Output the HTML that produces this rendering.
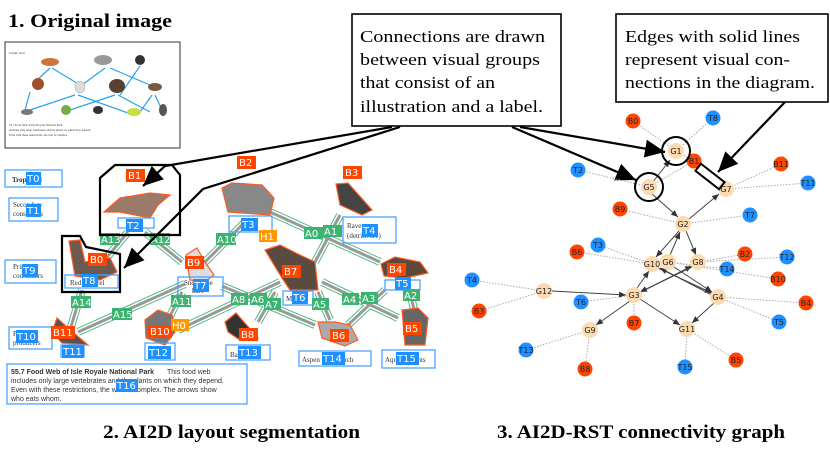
<!DOCTYPE html>
<html><head><meta charset="utf-8"><style>
html,body{margin:0;padding:0;background:#fff;}
svg{display:block;}
.cap{font-family:"Liberation Serif",serif;font-weight:bold;}
.ser{font-family:"Liberation Serif",serif;font-size:17px;}
.lab{font-family:"DejaVu Sans",sans-serif;font-size:10px;fill:#fff;}
.gl{font-family:"DejaVu Sans",sans-serif;font-size:8px;fill:#222;text-anchor:middle;}
.sm{font-family:"Liberation Serif",serif;font-size:7px;fill:#333;}
</style></head><body>
<svg width="830" height="452" viewBox="0 0 830 452" xmlns="http://www.w3.org/2000/svg">
<defs>
<marker id="ah" markerWidth="8" markerHeight="8" refX="7" refY="4" orient="auto" markerUnits="userSpaceOnUse"><path d="M0,1 L7,4 L0,7z" fill="#333"/></marker>
<marker id="bh" markerWidth="22" markerHeight="18" refX="20" refY="9" orient="auto" markerUnits="userSpaceOnUse"><path d="M0,0 L20,9 L0,18z" fill="#000"/></marker>
</defs>

<text x="8" y="27" class="cap" font-size="19" textLength="164" lengthAdjust="spacingAndGlyphs">1. Original image</text>
<!-- thumbnail -->
<rect x="5" y="42" width="175" height="106" fill="#fff" stroke="#333" stroke-width="1"/>
<g stroke="#29a3e8" stroke-width="1.2">
<line x1="50" y1="68" x2="35" y2="82"/><line x1="52" y1="68" x2="80" y2="85"/><line x1="105" y1="68" x2="82" y2="85"/><line x1="110" y1="68" x2="150" y2="85"/><line x1="140" y1="66" x2="120" y2="95"/>
<line x1="30" y1="92" x2="25" y2="110"/><line x1="75" y1="95" x2="30" y2="110"/><line x1="78" y1="95" x2="128" y2="113"/><line x1="115" y1="95" x2="70" y2="110"/><line x1="118" y1="95" x2="150" y2="112"/><line x1="152" y1="95" x2="140" y2="112"/><line x1="155" y1="95" x2="162" y2="110"/>
</g>
<g fill="#8a6a4a"><ellipse cx="50" cy="62" rx="9" ry="4" fill="#d0753a"/><ellipse cx="103" cy="60" rx="9" ry="5" fill="#999"/><ellipse cx="140" cy="60" rx="5" ry="5" fill="#333"/><ellipse cx="38" cy="84" rx="6" ry="6" fill="#a0502a"/><ellipse cx="80" cy="87" rx="5" ry="6" fill="#ddd" stroke="#999" stroke-width=".5"/><ellipse cx="117" cy="86" rx="8" ry="7" fill="#5a4030"/><ellipse cx="155" cy="87" rx="7" ry="4" fill="#7a5a40"/><ellipse cx="27" cy="112" rx="6" ry="3" fill="#777"/><ellipse cx="66" cy="110" rx="5" ry="5" fill="#7a4"/><ellipse cx="98" cy="110" rx="5" ry="4" fill="#333"/><ellipse cx="134" cy="112" rx="7" ry="4" fill="#cd4"/><ellipse cx="163" cy="110" rx="4" ry="6" fill="#555"/></g>
<g class="sm" font-size="3"><text x="9" y="54" font-size="3">Trophic level</text><text x="9" y="126" font-size="3">55.7 Food Web of Isle Royale National Park</text><text x="9" y="131" font-size="3">includes only large vertebrates and the plants on which they depend.</text><text x="9" y="136" font-size="3">Even with these restrictions, the web is complex.</text></g>

<!-- left panel: arrows -->
<g stroke-linecap="butt">
<g stroke="#3cb371" stroke-width="8" fill="none" opacity=".9">
<line x1="128" y1="232" x2="98" y2="268"/><line x1="145" y1="232" x2="182" y2="262"/><line x1="245" y1="222" x2="205" y2="262"/><line x1="270" y1="212" x2="380" y2="262"/><line x1="340" y1="215" x2="315" y2="262"/><line x1="82" y1="290" x2="70" y2="330"/><line x1="185" y1="284" x2="78" y2="332"/><line x1="182" y1="292" x2="168" y2="320"/><line x1="280" y1="282" x2="178" y2="330"/><line x1="222" y1="286" x2="315" y2="325"/><line x1="275" y1="292" x2="258" y2="322"/><line x1="318" y1="292" x2="330" y2="320"/><line x1="322" y1="282" x2="398" y2="318"/><line x1="385" y1="290" x2="348" y2="325"/><line x1="410" y1="292" x2="416" y2="318"/>
</g>
<g stroke="#fff" stroke-width="6" fill="none">
<line x1="128" y1="232" x2="98" y2="268"/><line x1="145" y1="232" x2="182" y2="262"/><line x1="245" y1="222" x2="205" y2="262"/><line x1="270" y1="212" x2="380" y2="262"/><line x1="340" y1="215" x2="315" y2="262"/><line x1="82" y1="290" x2="70" y2="330"/><line x1="185" y1="284" x2="78" y2="332"/><line x1="182" y1="292" x2="168" y2="320"/><line x1="280" y1="282" x2="178" y2="330"/><line x1="222" y1="286" x2="315" y2="325"/><line x1="275" y1="292" x2="258" y2="322"/><line x1="318" y1="292" x2="330" y2="320"/><line x1="322" y1="282" x2="398" y2="318"/><line x1="385" y1="290" x2="348" y2="325"/><line x1="410" y1="292" x2="416" y2="318"/>
</g>
<g stroke="#999" stroke-width="3" fill="none">
<line x1="128" y1="232" x2="98" y2="268"/><line x1="145" y1="232" x2="182" y2="262"/><line x1="245" y1="222" x2="205" y2="262"/><line x1="270" y1="212" x2="380" y2="262"/><line x1="340" y1="215" x2="315" y2="262"/><line x1="82" y1="290" x2="70" y2="330"/><line x1="185" y1="284" x2="78" y2="332"/><line x1="182" y1="292" x2="168" y2="320"/><line x1="280" y1="282" x2="178" y2="330"/><line x1="222" y1="286" x2="315" y2="325"/><line x1="275" y1="292" x2="258" y2="322"/><line x1="318" y1="292" x2="330" y2="320"/><line x1="322" y1="282" x2="398" y2="318"/><line x1="385" y1="290" x2="348" y2="325"/><line x1="410" y1="292" x2="416" y2="318"/>
</g>
</g>
<!-- animals -->
<g stroke="#ff5a1f" stroke-width="1.2" fill="#8a8a8a">
<path d="M104,212 L120,198 L150,193 L170,195 L158,205 L150,218 L120,212z" fill="#9a7a6a"/>
<path d="M222,188 L232,183 L262,185 L274,198 L270,215 L228,212z" fill="#888"/>
<path d="M336,184 L348,183 L372,210 L362,215 L340,205z" fill="#444"/>
<path d="M69,241 L80,240 L85,262 L110,258 L117,272 L100,280 L75,276z" fill="#6a5a50"/>
<path d="M186,255 L197,248 L205,262 L214,275 L205,282 L190,280z" fill="#ddd"/>
<path d="M265,250 L280,245 L300,255 L315,262 L318,290 L290,290 L282,278z" fill="#5a4a40"/>
<path d="M381,264 L395,257 L420,262 L428,273 L405,278 L384,276z" fill="#5a4a3a"/>
<path d="M57,318 L68,328 L88,345 L62,343 L52,332z" fill="#555"/>
<path d="M145,320 L158,310 L172,315 L175,332 L165,345 L146,338z" fill="#777"/>
<path d="M225,322 L236,313 L258,338 L240,340 L228,332z" fill="#333"/>
<path d="M318,322 L335,322 L350,325 L358,340 L345,346 L322,338z" fill="#aaa"/>
<path d="M402,310 L418,308 L428,318 L425,345 L405,345z" fill="#666"/>
</g>
<!-- text boxes -->
<g fill="none" stroke="#4da3ff" stroke-width="1.3">
<rect x="5" y="170" width="57" height="17"/><rect x="9" y="198" width="49" height="23"/><rect x="5" y="260" width="51" height="23"/><rect x="9" y="327" width="43" height="22"/>
<rect x="118" y="218" width="36" height="10"/><rect x="65" y="275" width="53" height="13"/><rect x="229" y="216" width="43" height="16"/><rect x="343" y="217" width="53" height="26"/><rect x="178" y="277" width="45" height="19"/><rect x="283" y="291" width="30" height="14"/><rect x="385" y="280" width="35" height="10"/><rect x="61" y="345" width="23" height="12"/><rect x="145" y="343" width="30" height="17"/><rect x="226" y="345" width="44" height="15"/><rect x="299" y="351" width="72" height="15"/><rect x="382" y="350" width="53" height="18"/><rect x="7" y="364" width="240" height="40"/>
</g>
<g class="sm" font-size="8" fill="#333">
<text x="12" y="182" font-weight="bold">Trop     level</text><text x="13" y="207">Secondary</text><text x="13" y="216">consumers</text><text x="13" y="269">Primary</text><text x="13" y="278">consumers</text><text x="13" y="336">Primary</text><text x="13" y="345">producers</text>
<text x="70" y="285">Red squirrel</text><text x="347" y="228">Raven</text><text x="347" y="238">(detritivore)</text><text x="184" y="285">Snowshoe</text><text x="192" y="293">hare</text><text x="230" y="357">Balsam fir</text><text x="302" y="362">Aspen   white birch</text><text x="385" y="362">Aquatic plants</text><text x="286" y="301">Moose</text>
</g>
<g font-family="Liberation Sans,sans-serif" font-size="7" fill="#333"><text x="11" y="374" font-weight="bold">55.7  Food Web of Isle Royale National Park</text><text x="167" y="374">This food web</text><text x="11" y="383">includes only large vertebrates and the plants on which they depend.</text><text x="11" y="392">Even with these restrictions, the web is complex. The arrows show</text><text x="11" y="401">who eats whom.</text></g>

<!-- labels -->
<g class="lab">
<g fill="#ff4500"><rect x="126" y="169" width="19" height="13"/><rect x="237" y="156" width="19" height="13"/><rect x="343" y="166" width="19" height="13"/><rect x="88" y="253" width="19" height="13"/><rect x="185" y="256" width="19" height="13"/><rect x="282" y="265" width="19" height="13"/><rect x="387" y="263" width="19" height="13"/><rect x="51" y="326" width="24" height="13"/><rect x="148" y="325" width="24" height="13"/><rect x="239" y="328" width="19" height="13"/><rect x="330" y="329" width="19" height="13"/><rect x="403" y="322" width="19" height="13"/></g>
<g fill="#1e90ff"><rect x="26" y="172" width="15" height="13"/><rect x="26" y="204" width="15" height="13"/><rect x="126" y="219" width="17" height="13"/><rect x="241" y="218" width="17" height="13"/><rect x="362" y="224" width="16" height="13"/><rect x="22" y="264" width="16" height="13"/><rect x="82" y="274" width="16" height="13"/><rect x="193" y="279" width="16" height="13"/><rect x="292" y="291" width="16" height="13"/><rect x="395" y="277" width="16" height="13"/><rect x="16" y="330" width="22" height="13"/><rect x="62" y="345" width="22" height="13"/><rect x="148" y="346" width="23" height="13"/><rect x="238" y="346" width="23" height="13"/><rect x="322" y="352" width="23" height="13"/><rect x="396" y="352" width="23" height="13"/><rect x="116" y="379" width="22" height="13"/></g>
<g fill="#3cb371"><rect x="100" y="233" width="20" height="12"/><rect x="150" y="233" width="20" height="12"/><rect x="216" y="233" width="20" height="12"/><rect x="304" y="227" width="19" height="12"/><rect x="323" y="225" width="19" height="12"/><rect x="71" y="296" width="20" height="12"/><rect x="171" y="295" width="20" height="12"/><rect x="112" y="308" width="20" height="12"/><rect x="231" y="293" width="17" height="12"/><rect x="250" y="293" width="17" height="12"/><rect x="264" y="298" width="17" height="12"/><rect x="312" y="298" width="17" height="12"/><rect x="342" y="293" width="17" height="12"/><rect x="361" y="292" width="17" height="12"/><rect x="403" y="289" width="17" height="12"/></g>
<g fill="#ff9800"><rect x="259" y="230" width="18" height="12"/><rect x="171" y="319" width="18" height="12"/></g>
<text x="128" y="179">B1</text><text x="239" y="166">B2</text><text x="345" y="176">B3</text><text x="90" y="263">B0</text><text x="187" y="266">B9</text><text x="284" y="275">B7</text><text x="389" y="273">B4</text><text x="53" y="336">B11</text><text x="150" y="335">B10</text><text x="241" y="338">B8</text><text x="332" y="339">B6</text><text x="405" y="332">B5</text>
<text x="27" y="182">T0</text><text x="27" y="214">T1</text><text x="127" y="229">T2</text><text x="242" y="228">T3</text><text x="363" y="234">T4</text><text x="23" y="274">T9</text><text x="83" y="284">T8</text><text x="194" y="289">T7</text><text x="293" y="301">T6</text><text x="396" y="287">T5</text><text x="17" y="340">T10</text><text x="63" y="355">T11</text><text x="149" y="356">T12</text><text x="239" y="356">T13</text><text x="323" y="362">T14</text><text x="397" y="362">T15</text><text x="117" y="389">T16</text>
<text x="101" y="243">A13</text><text x="151" y="243">A12</text><text x="217" y="243">A10</text><text x="305" y="237">A0</text><text x="324" y="235">A1</text><text x="72" y="306">A14</text><text x="172" y="305">A11</text><text x="113" y="318">A15</text><text x="232" y="303">A8</text><text x="251" y="303">A6</text><text x="265" y="308">A7</text><text x="313" y="308">A5</text><text x="343" y="303">A4</text><text x="362" y="302">A3</text><text x="404" y="299">A2</text>
<text x="260" y="240">H1</text><text x="172" y="329">H0</text>
</g>
<!-- highlight polygons -->
<path d="M100,178 L115,165 L172,165 L180,175 L180,235 L100,235z" fill="none" stroke="#000" stroke-width="2.2"/>
<path d="M62,236 L80,236 L86,247 L120,254 L120,292 L62,292z" fill="none" stroke="#000" stroke-width="2.2"/>

<!-- callouts -->
<rect x="352" y="14" width="209" height="112" fill="#fff" stroke="#000" stroke-width="1.6"/>
<g class="ser"><text x="360" y="42" textLength="185" lengthAdjust="spacingAndGlyphs">Connections are drawn</text><text x="360" y="65" textLength="180" lengthAdjust="spacingAndGlyphs">between visual groups</text><text x="360" y="88" textLength="135" lengthAdjust="spacingAndGlyphs">that consist of an</text><text x="360" y="112" textLength="183" lengthAdjust="spacingAndGlyphs">illustration and a label.</text></g>
<rect x="616" y="14" width="212" height="88" fill="#fff" stroke="#000" stroke-width="1.6"/>
<g class="ser"><text x="625" y="42" textLength="175" lengthAdjust="spacingAndGlyphs">Edges with solid lines</text><text x="625" y="65" textLength="165" lengthAdjust="spacingAndGlyphs">represent visual con-</text><text x="625" y="88" textLength="190" lengthAdjust="spacingAndGlyphs">nections in the diagram.</text></g>
<g stroke="#000" stroke-width="2.2" fill="none">
<polyline points="392,127 165,166 143,186" marker-end="url(#bh)"/>
<polyline points="400,127 203,189 124,268" marker-end="url(#bh)"/>
<line x1="520" y1="127" x2="665" y2="152" marker-end="url(#bh)"/>
<line x1="512" y1="127" x2="636" y2="180" marker-end="url(#bh)"/>
<line x1="785" y1="102" x2="718" y2="172" marker-end="url(#bh)"/>
</g>

<!-- graph dotted edges -->
<g stroke="#aaa" stroke-width="1" stroke-dasharray="1.5,1.5">
<line x1="676" y1="151" x2="633" y2="121"/><line x1="676" y1="151" x2="713" y2="118"/><line x1="676" y1="151" x2="694" y2="161"/><line x1="649" y1="187" x2="694" y2="161"/><line x1="649" y1="187" x2="578" y2="170"/>
<line x1="726" y1="189" x2="781" y2="164"/><line x1="726" y1="189" x2="808" y2="183"/><line x1="683" y1="224" x2="620" y2="209"/><line x1="683" y1="224" x2="750" y2="215"/>
<line x1="652" y1="264" x2="598" y2="245"/><line x1="652" y1="264" x2="577" y2="252"/><line x1="698" y1="262" x2="745" y2="254"/><line x1="698" y1="262" x2="787" y2="257"/><line x1="668" y1="262" x2="727" y2="269"/><line x1="668" y1="262" x2="778" y2="279"/>
<line x1="544" y1="291" x2="472" y2="280"/><line x1="544" y1="291" x2="479" y2="311"/><line x1="634" y1="295" x2="581" y2="302"/><line x1="634" y1="295" x2="634" y2="323"/><line x1="718" y1="297" x2="806" y2="303"/><line x1="718" y1="297" x2="779" y2="322"/>
<line x1="590" y1="330" x2="526" y2="350"/><line x1="590" y1="330" x2="585" y2="369"/><line x1="687" y1="329" x2="685" y2="367"/><line x1="687" y1="329" x2="736" y2="360"/>
</g>
<!-- graph solid edges -->
<g stroke="#444" stroke-width="1" marker-end="url(#ah)">
<line x1="649" y1="187" x2="670" y2="160"/><line x1="652" y1="194" x2="678" y2="217"/><line x1="689" y1="219" x2="719" y2="194"/>
<line x1="670" y1="255" x2="680" y2="232"/><line x1="679" y1="231" x2="656" y2="257"/><line x1="686" y1="231" x2="696" y2="255"/>
<line x1="637" y1="288" x2="649" y2="271"/><line x1="641" y1="292" x2="692" y2="266"/><line x1="692" y1="267" x2="640" y2="292"/>
<line x1="552" y1="291" x2="626" y2="295"/><line x1="630" y1="301" x2="596" y2="325"/><line x1="640" y1="299" x2="680" y2="325"/>
<line x1="658" y1="268" x2="712" y2="293"/><line x1="674" y1="267" x2="712" y2="292"/><line x1="714" y1="303" x2="692" y2="323"/>
<line x1="712" y1="295" x2="660" y2="268"/>
</g>
<!-- nodes -->
<g class="gl">
<g fill="#ff4500"><circle cx="633" cy="121" r="7.5"/><circle cx="694" cy="161" r="7.5"/><circle cx="781" cy="164" r="7.5"/><circle cx="620" cy="209" r="7.5"/><circle cx="577" cy="252" r="7.5"/><circle cx="745" cy="254" r="7.5"/><circle cx="778" cy="279" r="7.5"/><circle cx="479" cy="311" r="7.5"/><circle cx="806" cy="303" r="7.5"/><circle cx="634" cy="323" r="7.5"/><circle cx="736" cy="360" r="7.5"/><circle cx="585" cy="369" r="7.5"/></g>
<g fill="#1e90ff"><circle cx="713" cy="118" r="7.5"/><circle cx="578" cy="170" r="7.5"/><circle cx="808" cy="183" r="7.5"/><circle cx="750" cy="215" r="7.5"/><circle cx="598" cy="245" r="7.5"/><circle cx="787" cy="257" r="7.5"/><circle cx="727" cy="269" r="7.5"/><circle cx="472" cy="280" r="7.5"/><circle cx="581" cy="302" r="7.5"/><circle cx="779" cy="322" r="7.5"/><circle cx="526" cy="350" r="7.5"/><circle cx="685" cy="367" r="7.5"/></g>
<g fill="#fddbb0"><circle cx="676" cy="151" r="8"/><circle cx="649" cy="187" r="8"/><circle cx="726" cy="189" r="8"/><circle cx="683" cy="224" r="8"/><circle cx="652" cy="264" r="8"/><circle cx="668" cy="262" r="8"/><circle cx="698" cy="262" r="8"/><circle cx="544" cy="291" r="8"/><circle cx="634" cy="295" r="8"/><circle cx="718" cy="297" r="8"/><circle cx="590" cy="330" r="8"/><circle cx="687" cy="329" r="8"/></g>
<text x="633" y="124">B0</text><text x="694" y="164">B1</text><text x="781" y="167">B11</text><text x="620" y="212">B9</text><text x="577" y="255">B6</text><text x="745" y="257">B2</text><text x="778" y="282">B10</text><text x="479" y="314">B3</text><text x="806" y="306">B4</text><text x="634" y="326">B7</text><text x="736" y="363">B5</text><text x="585" y="372">B8</text>
<text x="713" y="121">T8</text><text x="578" y="173">T2</text><text x="808" y="186">T11</text><text x="750" y="218">T7</text><text x="598" y="248">T3</text><text x="787" y="260">T12</text><text x="727" y="272">T14</text><text x="472" y="283">T4</text><text x="581" y="305">T6</text><text x="779" y="325">T5</text><text x="526" y="353">T13</text><text x="685" y="370">T15</text>
<text x="676" y="154">G1</text><text x="649" y="190">G5</text><text x="726" y="192">G7</text><text x="683" y="227">G2</text><text x="652" y="267">G10</text><text x="668" y="265">G6</text><text x="698" y="265">G8</text><text x="544" y="294">G12</text><text x="634" y="298">G3</text><text x="718" y="300">G4</text><text x="590" y="333">G9</text><text x="687" y="332">G11</text>
</g>
<circle cx="676" cy="151" r="14" fill="none" stroke="#000" stroke-width="2"/>
<circle cx="649" cy="187" r="14" fill="none" stroke="#000" stroke-width="2"/>
<rect x="695" y="172" width="30" height="9" fill="none" stroke="#000" stroke-width="2" transform="rotate(38 710 176.5)"/>

<text x="103" y="438" class="cap" font-size="19" textLength="257" lengthAdjust="spacingAndGlyphs">2. AI2D layout segmentation</text>
<text x="497" y="438" class="cap" font-size="19" textLength="288" lengthAdjust="spacingAndGlyphs">3. AI2D-RST connectivity graph</text>
</svg>
</body></html>
